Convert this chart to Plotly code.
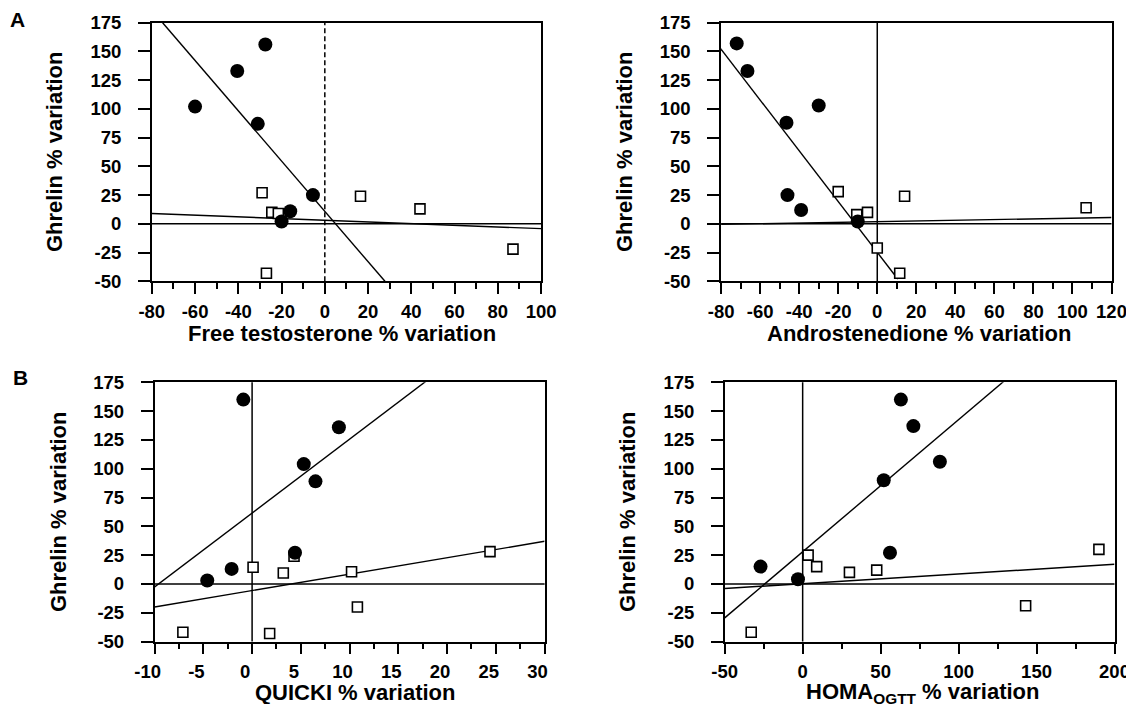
import plotly.graph_objects as go

# ---------------- data ----------------
# Panel A-left: Free testosterone
ft_circ_x = [-60, -40.5, -27.5, -31, -5.5, -16, -20]
ft_circ_y = [102, 133, 156, 87, 25, 11, 2]
ft_sq_x = [-29, -24.5, -21.5, -27, 16.5, 44, 87]
ft_sq_y = [27, 10, 9, -43, 24, 13, -22]
ft_fit1_x = [-75, 27.8]
ft_fit1_y = [175, -50]
ft_fit2_x = [-80, 100]
ft_fit2_y = [9, -4.2]

# Panel A-right: Androstenedione
an_circ_x = [-72, -66.5, -30, -46.5, -46, -39, -10]
an_circ_y = [157, 133, 103, 88, 25, 12, 2]
an_sq_x = [-20, -10.5, -5, 0, 11.5, 14, 107]
an_sq_y = [28, 8, 10, -21, -43, 24, 14]
an_fit1_x = [-80.5, 10.5]
an_fit1_y = [153, -48]
an_fit2_x = [-80, 120]
an_fit2_y = [-0.5, 5.5]

# Panel B-left: QUICKI
qu_circ_x = [-0.9, 8.9, 5.3, 6.5, 4.4, -2.1, -4.6]
qu_circ_y = [160, 136, 104, 89, 27, 13, 3]
qu_sq_x = [0.1, 3.2, 4.3, 10.2, 10.8, 24.4, -7.1, 1.8]
qu_sq_y = [14.5, 9.5, 24, 10.5, -20, 28, -42, -43]
qu_fit1_x = [-10.1, 18]
qu_fit1_y = [-3.3, 177]
qu_fit2_x = [-10, 30]
qu_fit2_y = [-20, 37]

# Panel B-right: HOMA OGTT
ho_circ_x = [63, 71, 88, 52, 56, -27, -3]
ho_circ_y = [160, 137, 106, 90, 27, 15, 4]
ho_sq_x = [3.5, 9, 30, 47.5, -33, 143, 190]
ho_sq_y = [25, 15, 10, 12, -42, -19, 30]
ho_fit1_x = [-50, 130]
ho_fit1_y = [-29.5, 177]
ho_fit2_x = [-50, 200]
ho_fit2_y = [-4, 17]

# tick labels
y_ticks = [-50, -25, 0, 25, 50, 75, 100, 125, 150, 175]
y_labels = ["-50", "-25", "0", "25", "50", "75", "100", "125", "150", "175"]
ft_ticks = [-80, -60, -40, -20, 0, 20, 40, 60, 80, 100]
ft_labels = ["-80", "-60", "-40", "-20", "0", "20", "40", "60", "80", "100"]
an_ticks = [-80, -60, -40, -20, 0, 20, 40, 60, 80, 100, 120]
an_labels = ["-80", "-60", "-40", "-20", "0", "20", "40", "60", "80", "100", "120"]
qu_ticks = [-10, -5, 0, 5, 10, 15, 20, 25, 30]
qu_labels = ["-10", "-5", "0", "5", "10", "15", "20", "25", "30"]
ho_ticks = [-50, 0, 50, 100, 150, 200]
ho_labels = ["-50", "0", "50", "100", "150", "200"]

x_titles = ["Free testosterone % variation", "Androstenedione % variation",
            "QUICKI % variation", "HOMA<sub>OGTT</sub> % variation"]
y_title = "Ghrelin % variation"
panel_letters = ["A", "B"]

# ---------------- figure ----------------
PAGE_W, PAGE_H = 1134, 704
OFF = 8  # default body margin of the html page
W, H = PAGE_W - OFF, PAGE_H - OFF
FONT = "Liberation Sans, Arial, Helvetica, sans-serif"


def px(xp):
    return (xp - OFF) / W


def py(yp):
    return 1 - (yp - OFF) / H


# plot frames in page pixels: (left, right, top, bottom)
frames = [
    (151.8, 541.1, 22.7, 281.3),
    (721.1, 1111.5, 22.7, 281.3),
    (154.6, 544.6, 382.3, 641.5),
    (724.7, 1114.5, 382.3, 641.5),
]

panels = [
    dict(cx=ft_circ_x, cy=ft_circ_y, sx=ft_sq_x, sy=ft_sq_y,
         f1=(ft_fit1_x, ft_fit1_y), f2=(ft_fit2_x, ft_fit2_y),
         xr=[-80, 100], tv=ft_ticks, tt=ft_labels, minor=10, vdash=True, shift=0),
    dict(cx=an_circ_x, cy=an_circ_y, sx=an_sq_x, sy=an_sq_y,
         f1=(an_fit1_x, an_fit1_y), f2=(an_fit2_x, an_fit2_y),
         xr=[-80, 120], tv=an_ticks, tt=an_labels, minor=10, vdash=False, shift=0),
    dict(cx=qu_circ_x, cy=qu_circ_y, sx=qu_sq_x, sy=qu_sq_y,
         f1=(qu_fit1_x, qu_fit1_y), f2=(qu_fit2_x, qu_fit2_y),
         xr=[-10, 30], tv=qu_ticks, tt=qu_labels, minor=2.5, vdash=False, shift=-7),
    dict(cx=ho_circ_x, cy=ho_circ_y, sx=ho_sq_x, sy=ho_sq_y,
         f1=(ho_fit1_x, ho_fit1_y), f2=(ho_fit2_x, ho_fit2_y),
         xr=[-50, 200], tv=ho_ticks, tt=ho_labels, minor=25, vdash=False, shift=0),
]


def bold(labels):
    return [f"<b>{s}</b>" for s in labels]


fig = go.Figure()
layout = dict(width=W, height=H, margin=dict(l=0, r=0, t=0, b=0, pad=0, autoexpand=False),
              paper_bgcolor="white", plot_bgcolor="white", showlegend=False)
shapes = []
annotations = []

tickfont = dict(family=FONT, size=18.5, color="black")
titlefont = dict(family=FONT, size=22, color="black")

for i, (p, fr) in enumerate(zip(panels, frames)):
    n = i + 1
    xa = "x" if n == 1 else f"x{n}"
    ya = "y" if n == 1 else f"y{n}"
    l, r, t, b = fr
    xdom = [px(l), px(r)]
    ydom = [py(b), py(t)]
    layout["xaxis" if n == 1 else f"xaxis{n}"] = dict(
        domain=xdom, range=p["xr"], anchor=ya, showgrid=False, zeroline=False,
        automargin=False,
        showline=True, linecolor="black", linewidth=1.5, mirror=True,
        ticks="outside", ticklen=11, tickwidth=1.5, tickcolor="black",
        tickvals=p["tv"], ticktext=bold(p["tt"]), tickfont=tickfont,
        ticklabelstandoff=2, ticklabelshift=p["shift"],
        minor=dict(ticks="outside", ticklen=6, tickwidth=1.5, tickcolor="black",
                   tick0=p["xr"][0], dtick=p["minor"], showgrid=False),
    )
    layout["yaxis" if n == 1 else f"yaxis{n}"] = dict(
        domain=ydom, range=[-50, 175], anchor=xa, showgrid=False, zeroline=False,
        automargin=False,
        showline=True, linecolor="black", linewidth=1.5, mirror=True,
        ticks="outside", ticklen=12, tickwidth=1.5, tickcolor="black",
        tickvals=y_ticks, ticktext=bold(y_labels), tickfont=tickfont,
        ticklabelstandoff=13,
    )
    # reference lines at zero
    shapes.append(dict(type="line", xref=f"{xa} domain", yref=ya, x0=0, x1=1, y0=0, y1=0,
                       line=dict(color="black", width=1.5), layer="below"))
    shapes.append(dict(type="line", xref=xa, yref=f"{ya} domain", x0=0, x1=0, y0=0, y1=1,
                       line=dict(color="black", width=1.5,
                                 dash="5px,3px" if p["vdash"] else "solid"),
                       layer="below"))
    # fit lines
    for fx, fy in (p["f1"], p["f2"]):
        fig.add_trace(go.Scatter(x=fx, y=fy, mode="lines", xaxis=xa, yaxis=ya,
                                 line=dict(color="black", width=1.4), hoverinfo="skip"))
    # open squares
    fig.add_trace(go.Scatter(x=p["sx"], y=p["sy"], mode="markers", xaxis=xa, yaxis=ya,
                             marker=dict(symbol="square", size=10, color="white",
                                         line=dict(color="black", width=1.6))))
    # filled circles
    fig.add_trace(go.Scatter(x=p["cx"], y=p["cy"], mode="markers", xaxis=xa, yaxis=ya,
                             marker=dict(symbol="circle", size=14, color="black",
                                         line=dict(width=0))))

# axis titles (page pixel positions)
xt_pos = [(342, 333), (918.7, 333), (355, 692.5), (922, 692.5)]
yt_pos = [(55, 152), (625, 152), (58, 512), (627, 512)]
for (xp, yp), txt in zip(xt_pos, x_titles):
    annotations.append(dict(text=f"<b>{txt}</b>", xref="paper", yref="paper",
                            x=px(xp), y=py(yp),
                            xanchor="center", yanchor="middle", showarrow=False,
                            font=titlefont))
for xp, yp in yt_pos:
    annotations.append(dict(text=f"<b>{y_title}</b>", xref="paper", yref="paper",
                            x=px(xp), y=py(yp),
                            xanchor="center", yanchor="middle", showarrow=False,
                            textangle=-90, font=titlefont))
# panel letters
for (xp, yp), letter in zip([(17, 19.5), (20, 377.5)], panel_letters):
    annotations.append(dict(text=f"<b>{letter}</b>", xref="paper", yref="paper",
                            x=px(xp), y=py(yp),
                            xanchor="center", yanchor="middle", showarrow=False,
                            font=dict(family=FONT, size=21, color="black")))

layout["shapes"] = shapes
layout["annotations"] = annotations
fig.update_layout(**layout)
fig.write_html("out.html")
